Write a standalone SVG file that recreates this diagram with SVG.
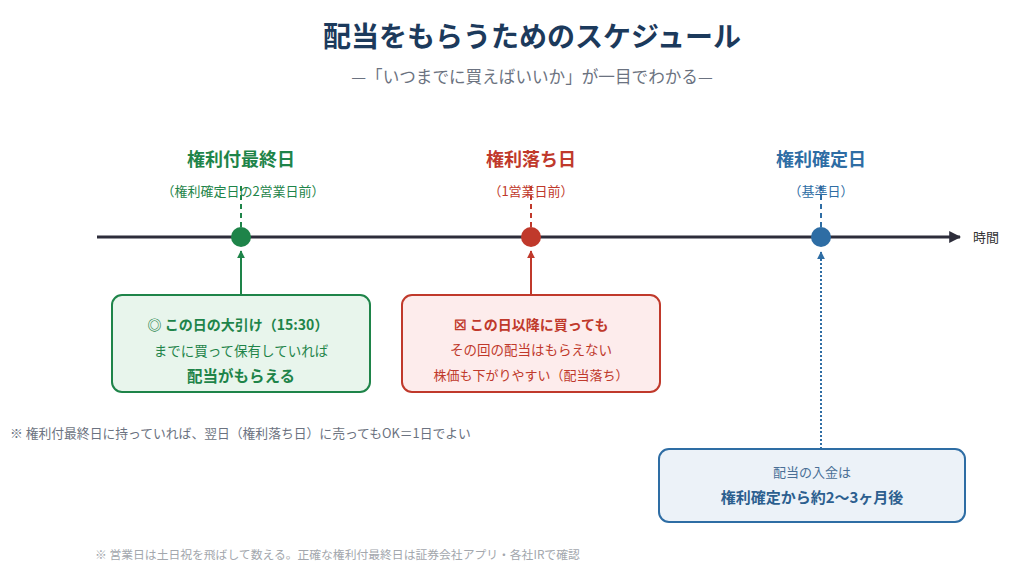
<svg xmlns="http://www.w3.org/2000/svg" width="1024" height="588" viewBox="0 0 1024 588">
<defs>
<style>
text{font-family:"Noto Sans CJK JP","Noto Sans",sans-serif}
.t{font-size:28px;font-weight:700;fill:#1c3a5c}
.sub{font-size:16.6px;fill:#6b7280}
.g{fill:#1e8449}.r{fill:#c0392b}.b{fill:#2e6da4}
.lab{font-size:18px;font-weight:700}
.sm{font-size:13px}
.bx{font-size:13.5px}
.bb{font-weight:700}
.note{font-size:12.8px;fill:#6b7280}
.foot{font-size:11.8px;fill:#a3a7ad}
</style>
<marker id="ah" viewBox="0 0 10 10" refX="9" refY="5" markerWidth="4" markerHeight="4" orient="auto"><path d="M0,0L10,5L0,10z" fill="#2d2d3a"/></marker>
<marker id="ag" viewBox="0 0 10 10" refX="9" refY="5" markerWidth="4" markerHeight="4" orient="auto"><path d="M0,0L10,5L0,10z" fill="#1e8449"/></marker>
<marker id="ar" viewBox="0 0 10 10" refX="9" refY="5" markerWidth="4" markerHeight="4" orient="auto"><path d="M0,0L10,5L0,10z" fill="#c0392b"/></marker>
<marker id="ab" viewBox="0 0 10 10" refX="9" refY="5" markerWidth="4" markerHeight="4" orient="auto"><path d="M0,0L10,5L0,10z" fill="#2e6da4"/></marker>
</defs>
<rect width="1024" height="588" fill="#ffffff"/>
<text class="t" x="532" y="47" text-anchor="middle">配当をもらうためのスケジュール</text>
<text class="sub" x="532" y="83" text-anchor="middle">—「いつまでに買えばいいか」が一目でわかる—</text>

<g id="timeline">
<line x1="97" y1="237" x2="960" y2="237" stroke="#2d2d3a" stroke-width="3" marker-end="url(#ah)"/>
<text x="973" y="242" font-size="13" fill="#333">時間</text>
</g>

<g id="connectors">
<line x1="241" y1="186" x2="241" y2="227" stroke="#1e8449" stroke-width="2" stroke-dasharray="5,4"/>
<line x1="531" y1="186" x2="531" y2="227" stroke="#c0392b" stroke-width="2" stroke-dasharray="5,4"/>
<line x1="821" y1="186" x2="821" y2="227" stroke="#2e6da4" stroke-width="2" stroke-dasharray="5,4"/>
<line x1="241" y1="295" x2="241" y2="251" stroke="#1e8449" stroke-width="2" marker-end="url(#ag)"/>
<line x1="531" y1="295" x2="531" y2="251" stroke="#c0392b" stroke-width="2" marker-end="url(#ar)"/>
<line x1="821" y1="449" x2="821" y2="252" stroke="#2e6da4" stroke-width="2" stroke-dasharray="2,2" marker-end="url(#ab)"/>
</g>

<g id="last-day">
<text class="lab g" x="241" y="166" text-anchor="middle">権利付最終日</text>
<text class="sm g" x="243" y="196" text-anchor="middle">（権利確定日の2営業日前）</text>
<circle cx="241" cy="237" r="10" fill="#1e8449"/>
</g>
<g id="ex-day">
<text class="lab r" x="531" y="166" text-anchor="middle">権利落ち日</text>
<text class="sm r" x="531" y="196" text-anchor="middle">（1営業日前）</text>
<circle cx="531" cy="237" r="10" fill="#c0392b"/>
</g>
<g id="record-day">
<text class="lab b" x="821" y="166" text-anchor="middle">権利確定日</text>
<text class="sm b" x="821" y="196" text-anchor="middle">（基準日）</text>
<circle cx="821" cy="237" r="10" fill="#2e6da4"/>
</g>

<g id="box-green">
<rect x="112" y="295" width="258" height="97" rx="10" fill="#e8f5ec" stroke="#1e8449" stroke-width="2"/>
<text class="g bb" x="238" y="330" font-size="14" text-anchor="middle">◎ この日の大引け（15:30）</text>
<text class="g bx" x="241" y="356" text-anchor="middle">までに買って保有していれば</text>
<text class="g bb" x="241" y="382" font-size="15.5" text-anchor="middle">配当がもらえる</text>
</g>

<g id="box-red">
<rect x="402" y="295" width="258" height="97" rx="10" fill="#fdecec" stroke="#c0392b" stroke-width="2"/>
<text class="r bb" x="531" y="330" font-size="14" text-anchor="middle">☒ この日以降に買っても</text>
<text class="r bx" x="531" y="355" text-anchor="middle">その回の配当はもらえない</text>
<text class="r" x="531" y="380" font-size="13" text-anchor="middle">株価も下がりやすい（配当落ち）</text>
</g>

<g id="box-blue">
<rect x="659" y="449" width="306" height="73" rx="10" fill="#ecf2f8" stroke="#2e6da4" stroke-width="2"/>
<text x="812" y="477" font-size="13" fill="#4a6f96" text-anchor="middle">配当の入金は</text>
<text x="812" y="503" font-size="15" font-weight="700" fill="#2c5f8f" text-anchor="middle">権利確定から約2〜3ヶ月後</text>
</g>

<text class="note" x="10" y="438">※ 権利付最終日に持っていれば、翌日（権利落ち日）に売ってもOK＝1日でよい</text>
<text class="foot" x="95" y="559">※ 営業日は土日祝を飛ばして数える。正確な権利付最終日は証券会社アプリ・各社IRで確認</text>
</svg>
